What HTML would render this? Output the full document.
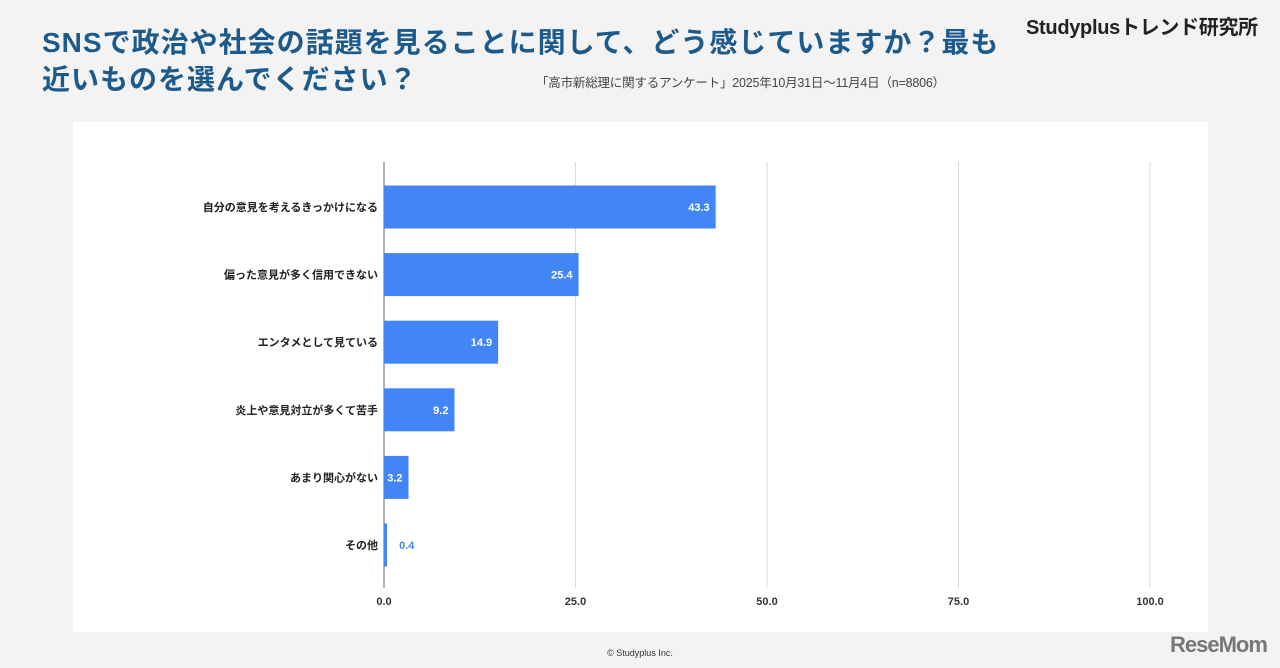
<!DOCTYPE html>
<html><head><meta charset="utf-8"><style>
body{margin:0;width:1280px;height:668px;background:#f3f3f3;font-family:"Liberation Sans","Noto Sans CJK JP",sans-serif;position:relative;overflow:hidden}
.title{position:absolute;left:42px;top:24px;width:1000px;font-size:28px;line-height:37px;font-weight:bold;color:#1d5a8c;letter-spacing:1px;white-space:nowrap}
.sub{position:absolute;left:536px;top:72px;font-size:12.5px;color:#444;letter-spacing:-0.2px}
.brand{position:absolute;left:1026px;top:11px;font-size:20px;font-weight:bold;color:#222;letter-spacing:-0.3px}
.card{position:absolute;left:73px;top:122px;width:1135px;height:510px;background:#fff}
.copy{position:absolute;left:0;width:1280px;top:648px;text-align:center;font-size:9px;color:#333}
.logo{position:absolute;left:1170px;top:632px;font-size:22px;font-weight:bold;color:#777;letter-spacing:-1px}
</style></head><body>
<div class="title">SNSで政治や社会の話題を見ることに関して、どう感じていますか？最も<br>近いものを選んでください？</div>
<div class="sub">「高市新総理に関するアンケート」2025年10月31日〜11月4日（n=8806）</div>
<div class="brand">Studyplusトレンド研究所</div>
<div class="card"></div>
<svg id="chart" width="1280" height="668" style="position:absolute;left:0;top:0"></svg>
<div class="copy">© Studyplus Inc.</div>
<div class="logo">ReseMom</div>
<script>
const categories=["自分の意見を考えるきっかけになる","偏った意見が多く信用できない","エンタメとして見ている","炎上や意見対立が多くて苦手","あまり関心がない","その他"];
const values=[43.3,25.4,14.9,9.2,3.2,0.4];
const ticks=[0,25,50,75,100];
const NS="http://www.w3.org/2000/svg";
const svg=document.getElementById('chart');
const x0=384,x1=1150,yTop=162,yBot=588,rowH=67.6,barH=43,firstC=207;
const xs=v=>x0+(x1-x0)*v/100;
const yc=i=>firstC+i*rowH;
function mk(t,a){const e=document.createElementNS(NS,t);for(const k in a)e.setAttribute(k,a[k]);svg.appendChild(e);return e;}
ticks.forEach(t=>{
  const l=mk('line',{x1:xs(t),x2:xs(t),y1:yTop,y2:yBot,stroke:t===0?'#666':'#d9d9d9','stroke-width':1});
  
  
  const tx=mk('text',{x:xs(t),y:605,'text-anchor':'middle','font-size':11,'font-weight':'bold',fill:'#333'});
  tx.textContent=t.toFixed(1);
  
  
});
categories.forEach((c,i)=>{
  const v=values[i];
  const r=mk('rect',{x:x0,y:yc(i)-barH/2,width:xs(v)-x0,height:barH,fill:'#4285f4'});
  
  
  const lb=mk('text',{x:378,y:yc(i)+4,'text-anchor':'end','font-size':11,'font-weight':'bold',fill:'#222'});
  lb.textContent=c;
  
  
  const inside=xs(v)-x0>22;
  const vt=mk('text',{x:inside?xs(v)-6:xs(v)+12,y:yc(i)+4,'text-anchor':inside?'end':'start','font-size':11,'font-weight':'bold',fill:inside?'#fff':'#4285f4'});
  vt.textContent=v.toFixed(1);
  
  
});
</script>
</body></html>
